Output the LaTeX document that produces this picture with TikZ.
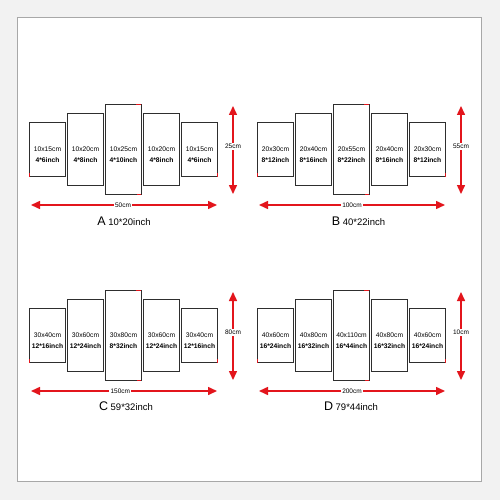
\documentclass[tikz,border=0pt]{standalone}
\usepackage{fontspec}
\setmainfont{Liberation Sans}
\usepackage{tikz}
\usetikzlibrary{arrows.meta}

\definecolor{dimred}{HTML}{E3151C}
\definecolor{framegray}{HTML}{A8A8A8}
\definecolor{pagegray}{HTML}{F2F2F2}
\definecolor{boxline}{HTML}{2E2E2E}

\begin{document}
\begin{tikzpicture}[x=1pt,y=-1pt,
    canvas/.style={draw=framegray,line width=1pt,fill=white},
    panel/.style={draw=boxline,line width=1.1pt,minimum width=35.5pt,inner sep=0pt,outer sep=0pt},
    sbox/.style={panel,minimum height=54pt},
    mbox/.style={panel,minimum height=72pt},
    lbox/.style={panel,minimum height=90pt},
    sizetext/.style={align=center,inner sep=0pt,font=\fontsize{6.7}{10.5}\selectfont},
    dim/.style={draw=dimred,line width=1.5pt,{Triangle[length=9pt,width=8pt]}-{Triangle[length=9pt,width=8pt]}},
    dimlabel/.style={fill=white,inner sep=1.2pt,font=\fontsize{6.5}{7}\selectfont},
    caption/.style={anchor=base,inner sep=0pt,font=\fontsize{9.5}{10}\selectfont},
    redmark/.style={draw=dimred,line width=1.3pt}]
    \fill[pagegray] (0,0) rectangle (500,500);
    \useasboundingbox (0,0) rectangle (500,500);
    \draw[canvas] (17.5,17.5) rectangle (481.5,481.5);

    % A
    \node[sbox] (a1) at (47.5,149.5) {};
    \node[mbox] (a2) at (85.5,149.5) {};
    \node[lbox] (a3) at (123.5,149.5) {};
    \node[mbox] (a4) at (161.5,149.5) {};
    \node[sbox] (a5) at (199.5,149.5) {};
    \node[sizetext] (a1t) at ([yshift=-5pt]a1.center) {10x15cm\\\textbf{4*6inch}};
    \node[sizetext] (a2t) at ([yshift=-5pt]a2.center) {10x20cm\\\textbf{4*8inch}};
    \node[sizetext] (a3t) at ([yshift=-5pt]a3.center) {10x25cm\\\textbf{4*10inch}};
    \node[sizetext] (a4t) at ([yshift=-5pt]a4.center) {10x20cm\\\textbf{4*8inch}};
    \node[sizetext] (a5t) at ([yshift=-5pt]a5.center) {10x15cm\\\textbf{4*6inch}};
    \draw[redmark] (a1.south west) -- ++(0,-4) (a3.north east) -- ++(-5,0)
        (a3.south east) -- ++(-4,0) (a5.south east) -- ++(0,-4);
    \coordinate (awl) at (31,205);
    \coordinate (awr) at (217,205);
    \coordinate (avt) at (233,106);
    \coordinate (avb) at (233,194);
    \draw[dim] (awl) -- (awr) node[dimlabel,pos=0.495] (awlab) {50cm};
    \draw[dim] (avt) -- (avb) node[dimlabel,pos=0.46] (avlab) {25cm};
    \node[caption] (acap) at (124,225) {{\fontsize{12.5}{12}\selectfont A} 10*20inch};

    % B
    \node[sbox] (b1) at (275.5,149.5) {};
    \node[mbox] (b2) at (313.5,149.5) {};
    \node[lbox] (b3) at (351.5,149.5) {};
    \node[mbox] (b4) at (389.5,149.5) {};
    \node[sbox] (b5) at (427.5,149.5) {};
    \node[sizetext] (b1t) at ([yshift=-5pt]b1.center) {20x30cm\\\textbf{8*12inch}};
    \node[sizetext] (b2t) at ([yshift=-5pt]b2.center) {20x40cm\\\textbf{8*16inch}};
    \node[sizetext] (b3t) at ([yshift=-5pt]b3.center) {20x55cm\\\textbf{8*22inch}};
    \node[sizetext] (b4t) at ([yshift=-5pt]b4.center) {20x40cm\\\textbf{8*16inch}};
    \node[sizetext] (b5t) at ([yshift=-5pt]b5.center) {20x30cm\\\textbf{8*12inch}};
    \draw[redmark] (b1.south west) -- ++(0,-4) (b3.north east) -- ++(-5,0)
        (b3.south east) -- ++(-4,0) (b5.south east) -- ++(0,-4);
    \coordinate (bwl) at (259,205);
    \coordinate (bwr) at (445,205);
    \coordinate (bvt) at (461,106);
    \coordinate (bvb) at (461,194);
    \draw[dim] (bwl) -- (bwr) node[dimlabel,pos=0.5] (bwlab) {100cm};
    \draw[dim] (bvt) -- (bvb) node[dimlabel,pos=0.46] (bvlab) {55cm};
    \node[caption] (bcap) at (358.5,225) {{\fontsize{12.5}{12}\selectfont B} 40*22inch};

    % C
    \node[sbox] (c1) at (47.5,335.5) {};
    \node[mbox] (c2) at (85.5,335.5) {};
    \node[lbox] (c3) at (123.5,335.5) {};
    \node[mbox] (c4) at (161.5,335.5) {};
    \node[sbox] (c5) at (199.5,335.5) {};
    \node[sizetext] (c1t) at ([yshift=-5pt]c1.center) {30x40cm\\\textbf{12*16inch}};
    \node[sizetext] (c2t) at ([yshift=-5pt]c2.center) {30x60cm\\\textbf{12*24inch}};
    \node[sizetext] (c3t) at ([yshift=-5pt]c3.center) {30x80cm\\\textbf{8*32inch}};
    \node[sizetext] (c4t) at ([yshift=-5pt]c4.center) {30x60cm\\\textbf{12*24inch}};
    \node[sizetext] (c5t) at ([yshift=-5pt]c5.center) {30x40cm\\\textbf{12*16inch}};
    \draw[redmark] (c1.south west) -- ++(0,-4) (c3.north east) -- ++(-5,0)
        (c3.south east) -- ++(-4,0) (c5.south east) -- ++(0,-4);
    \coordinate (cwl) at (31,391);
    \coordinate (cwr) at (217,391);
    \coordinate (cvt) at (233,292);
    \coordinate (cvb) at (233,380);
    \draw[dim] (cwl) -- (cwr) node[dimlabel,pos=0.48] (cwlab) {150cm};
    \draw[dim] (cvt) -- (cvb) node[dimlabel,pos=0.46] (cvlab) {80cm};
    \node[caption] (ccap) at (126,410) {{\fontsize{12.5}{12}\selectfont C} 59*32inch};

    % D
    \node[sbox] (d1) at (275.5,335.5) {};
    \node[mbox] (d2) at (313.5,335.5) {};
    \node[lbox] (d3) at (351.5,335.5) {};
    \node[mbox] (d4) at (389.5,335.5) {};
    \node[sbox] (d5) at (427.5,335.5) {};
    \node[sizetext] (d1t) at ([yshift=-5pt]d1.center) {40x60cm\\\textbf{16*24inch}};
    \node[sizetext] (d2t) at ([yshift=-5pt]d2.center) {40x80cm\\\textbf{16*32inch}};
    \node[sizetext] (d3t) at ([yshift=-5pt]d3.center) {40x110cm\\\textbf{16*44inch}};
    \node[sizetext] (d4t) at ([yshift=-5pt]d4.center) {40x80cm\\\textbf{16*32inch}};
    \node[sizetext] (d5t) at ([yshift=-5pt]d5.center) {40x60cm\\\textbf{16*24inch}};
    \draw[redmark] (d1.south west) -- ++(0,-4) (d3.north east) -- ++(-5,0)
        (d3.south east) -- ++(-4,0) (d5.south east) -- ++(0,-4);
    \coordinate (dwl) at (259,391);
    \coordinate (dwr) at (445,391);
    \coordinate (dvt) at (461,292);
    \coordinate (dvb) at (461,380);
    \draw[dim] (dwl) -- (dwr) node[dimlabel,pos=0.5] (dwlab) {200cm};
    \draw[dim] (dvt) -- (dvb) node[dimlabel,pos=0.46] (dvlab) {10cm};
    \node[caption] (dcap) at (351,410) {{\fontsize{12.5}{12}\selectfont D} 79*44inch};

\end{tikzpicture}
\end{document}
